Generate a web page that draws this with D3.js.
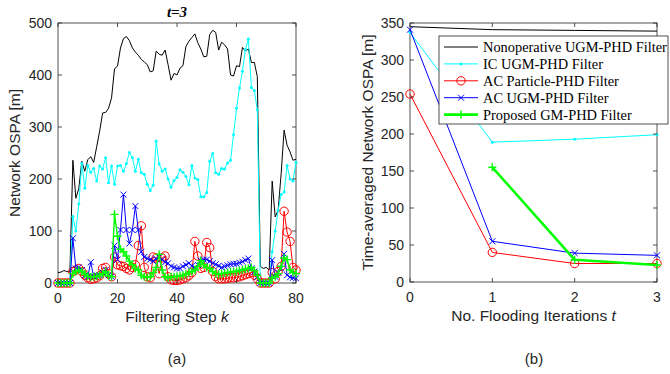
<!DOCTYPE html>
<html lang="en">
<head>
<meta charset="utf-8">
<title>Network OSPA</title>
<script src="https://cdn.jsdelivr.net/npm/d3@7/dist/d3.min.js"></script>
<style>
  * { margin: 0; padding: 0; }
  body { background: #fff; }
  svg { display: block; }
  text { fill: #262626; }
</style>
</head>
<body>
<svg id="fig" width="670" height="374"></svg>
<script>
// ---- panel (a): OSPA per filtering step, t = 3 ----
const steps = d3.range(0, 81)
const nonopK = [20, 21, 24, 22, 21, 236, 163, 182, 234, 215, 237, 243, 232, 262, 292, 327, 328, 336, 356, 412,
  417, 452, 470, 474, 466, 452, 444, 438, 430, 425, 420, 406, 408, 446, 440, 438, 448, 420, 390, 403,
  400, 413, 418, 455, 465, 472, 479, 462, 450, 435, 436, 478, 486, 482, 448, 463, 458, 450, 400, 398,
  418, 416, 453, 446, 450, 424, 424, 397, 32, 28, 30, 25, 196, 127, 140, 210, 294, 265, 252, 236, 238]
const icK = [0, 0, 0, 0, 0, 128, 100, 152, 230, 182, 226, 213, 220, 196, 225, 219, 241, 193, 225, 190,
  225, 226, 215, 230, 251, 241, 215, 238, 212, 209, 190, 178, 188, 273, 229, 215, 219, 200, 184, 197,
  203, 218, 213, 205, 189, 226, 202, 199, 166, 166, 174, 234, 249, 212, 209, 220, 219, 231, 236, 285,
  336, 375, 407, 449, 469, 376, 370, 333, 0, 0, 0, 0, 60, 100, 140, 170, 175, 226, 200, 196, 232]
const acPartK = [0, 0, 0, 0, 0, 22, 25, 28, 22, 15, 10, 7, 8, 10, 14, 28, 30, 18, 12, 50,
  35, 33, 32, 28, 25, 30, 35, 72, 110, 30, 12, 10, 50, 48, 18, 48, 52, 12, 6, 5,
  5, 6, 8, 10, 14, 20, 80, 52, 28, 30, 78, 68, 22, 12, 8, 8, 8, 9, 10, 10,
  11, 12, 14, 16, 18, 20, 15, 8, 0, 0, 0, 0, 20, 8, 22, 32, 138, 98, 80, 30, 25]
const acUgmK = [0, 0, 0, 0, 0, 86, 28, 30, 25, 15, 12, 40, 12, 15, 15, 20, 25, 15, 12, 72,
  45, 102, 170, 102, 76, 102, 148, 102, 60, 50, 47, 45, 42, 47, 50, 45, 40, 38, 32, 30,
  28, 28, 32, 35, 38, 33, 30, 35, 43, 45, 45, 42, 38, 36, 33, 30, 32, 34, 36, 37,
  37, 39, 41, 44, 47, 28, 22, 12, 0, 0, 0, 0, 44, 12, 20, 28, 56, 15, 11, 10, 9]
const proposedK = [0, 0, 0, 0, 0, 18, 22, 25, 22, 17, 13, 12, 12, 13, 15, 18, 22, 14, 12, 132,
  90, 65, 60, 52, 42, 35, 28, 25, 15, 12, 11, 12, 20, 30, 55, 25, 12, 10, 12, 12,
  13, 14, 15, 17, 20, 22, 25, 32, 43, 35, 30, 28, 22, 18, 17, 18, 19, 20, 21, 22,
  22, 24, 25, 27, 28, 30, 24, 15, 0, 0, 0, 0, 10, 12, 18, 32, 48, 45, 25, 20, 18]
const stepTicks = [0, 20, 40, 60, 80]
const ospaTicks = [0, 100, 200, 300, 400, 500]

// ---- panel (b): time-averaged OSPA per flooding iterations ----
const iters = [0, 1, 2, 3]
const nonopT = [345, 341, 340, 339]
const icT = [337, 189, 193, 199]
const acPartT = [254, 40, 25, 25]
const acUgmT = [341, 55, 39, 36]
const proposedT = [null, 155, 30, 23]
const iterTicks = [0, 1, 2, 3]
const avgTicks = [0, 50, 100, 150, 200, 250, 300, 350]

const labels = ['Nonoperative UGM-PHD Filter', 'IC UGM-PHD Filter', 'AC Particle-PHD Filter',
  'AC UGM-PHD Filter', 'Proposed GM-PHD Filter']

const styles = [
  { color: '#000000', marker: null, width: 1 },
  { color: '#00ffff', marker: 'dot', width: 1 },
  { color: '#ff0000', marker: 'o', width: 1 },
  { color: '#0000ff', marker: 'x', width: 1 },
  { color: '#00ff00', marker: '+', width: 1.4 }
]

const svg = d3.select('#fig')
const AX = '#262626'
const SANS = 'Liberation Sans, Arial, sans-serif'
const SERIF = 'Liberation Serif, Times New Roman, serif'

function drawMarker(g, type, color, cx, cy) {
  if (type === 'dot') {
    g.append('circle').attr('cx', cx).attr('cy', cy).attr('r', 1.5).attr('fill', color)
  } else if (type === 'o') {
    g.append('circle').attr('cx', cx).attr('cy', cy).attr('r', 4.2)
      .attr('fill', 'none').attr('stroke', color).attr('stroke-width', 1)
  } else if (type === 'x') {
    const s = 3
    g.append('path').attr('d', `M${cx - s},${cy - s}L${cx + s},${cy + s}M${cx - s},${cy + s}L${cx + s},${cy - s}`)
      .attr('stroke', color).attr('stroke-width', 1)
  } else if (type === '+') {
    const s = 4
    g.append('path').attr('d', `M${cx - s},${cy}H${cx + s}M${cx},${cy - s}V${cy + s}`)
      .attr('stroke', color).attr('stroke-width', 1.4)
  }
}

function panel(o) {
  const x = d3.scaleLinear().domain(o.xDomain).range([o.left, o.right])
  const y = d3.scaleLinear().domain(o.yDomain).range([o.bottom, o.top])
  const g = svg.append('g')

  g.append('rect')
    .attr('x', o.left).attr('y', o.top)
    .attr('width', o.right - o.left).attr('height', o.bottom - o.top)
    .attr('fill', '#fff').attr('stroke', AX).attr('stroke-width', 0.8)

  const line = d3.line()
    .defined(d => d[1] != null)
    .x(d => x(d[0])).y(d => y(d[1]))

  o.series.forEach((vals, i) => {
    const st = o.styles[i]
    const pts = o.xs.map((xv, j) => [xv, vals[j]])
    g.append('path')
      .attr('d', line(pts))
      .attr('fill', 'none')
      .attr('stroke', st.color)
      .attr('stroke-width', st.width)
      .attr('stroke-linejoin', 'round')
    if (st.marker) {
      const mg = g.append('g')
      pts.filter(p => p[1] != null).forEach(p => drawMarker(mg, st.marker, st.color, x(p[0]), y(p[1])))
    }
  })

  // ticks on all four sides, pointing inward
  const tl = 4
  const tg = g.append('g').attr('stroke', AX).attr('stroke-width', 0.8)
  o.xTicks.forEach(t => {
    tg.append('line').attr('x1', x(t)).attr('x2', x(t)).attr('y1', o.bottom).attr('y2', o.bottom - tl)
    tg.append('line').attr('x1', x(t)).attr('x2', x(t)).attr('y1', o.top).attr('y2', o.top + tl)
  })
  o.yTicks.forEach(t => {
    tg.append('line').attr('y1', y(t)).attr('y2', y(t)).attr('x1', o.left).attr('x2', o.left + tl)
    tg.append('line').attr('y1', y(t)).attr('y2', y(t)).attr('x1', o.right).attr('x2', o.right - tl)
  })

  g.append('g').selectAll('text').data(o.xTicks).join('text')
    .attr('x', d => x(d)).attr('y', o.bottom + 20)
    .attr('text-anchor', 'middle')
    .attr('font-family', SANS).attr('font-size', 14)
    .text(d => d)

  g.append('g').selectAll('text').data(o.yTicks).join('text')
    .attr('x', o.left - 6).attr('y', d => y(d)).attr('dy', '0.36em')
    .attr('text-anchor', 'end')
    .attr('font-family', SANS).attr('font-size', 14)
    .text(d => d)

  const xl = g.append('text')
    .attr('x', (o.left + o.right) / 2).attr('y', o.bottom + 39)
    .attr('text-anchor', 'middle')
    .attr('font-family', SANS).attr('font-size', 15.5)
  xl.append('tspan').text(o.xLabel[0])
  xl.append('tspan').attr('font-style', 'italic').text(o.xLabel[1])

  g.append('text')
    .attr('transform', `translate(${o.yLabelX},${(o.top + o.bottom) / 2}) rotate(-90)`)
    .attr('text-anchor', 'middle')
    .attr('font-family', SANS).attr('font-size', 15.5)
    .text(o.yLabel)

  g.append('text')
    .attr('x', o.tagX).attr('y', 364)
    .attr('text-anchor', 'middle')
    .attr('font-family', SANS).attr('font-size', 15)
    .text(o.tag)

  return { g, x, y }
}

const pa = panel({
  left: 58, right: 296, top: 23, bottom: 283,
  xDomain: [0, 80], yDomain: [0, 500],
  xs: steps,
  series: [nonopK, icK, acPartK, acUgmK, proposedK],
  styles: styles,
  xTicks: stepTicks, yTicks: ospaTicks,
  xLabel: ['Filtering Step ', 'k'],
  yLabel: 'Network OSPA [m]', yLabelX: 20,
  tag: '(a)', tagX: 177
})

pa.g.append('text')
  .attr('x', 177).attr('y', 17)
  .attr('text-anchor', 'middle')
  .attr('font-family', SERIF).attr('font-size', 15)
  .attr('font-weight', 'bold').attr('font-style', 'italic')
  .style('fill', '#000')
  .text('t=3')

const stylesB = styles.map((s, i) => i === 4 ? Object.assign({}, s, { width: 2.6 }) : s)

const pb = panel({
  left: 410, right: 657, top: 23, bottom: 282,
  xDomain: [0, 3], yDomain: [0, 350],
  xs: iters,
  series: [nonopT, icT, acPartT, acUgmT, proposedT],
  styles: stylesB,
  xTicks: iterTicks, yTicks: avgTicks,
  xLabel: ['No. Flooding Iterations ', 't'],
  yLabel: 'Time-averaged Network OSPA [m]', yLabelX: 373,
  tag: '(b)', tagX: 534
})

// legend
const lg = pb.g.append('g')
lg.append('rect')
  .attr('x', 439).attr('y', 36).attr('width', 229).attr('height', 88)
  .attr('fill', '#fff').attr('stroke', AX).attr('stroke-width', 0.8)
labels.forEach((lab, i) => {
  const st = stylesB[i]
  const cy = 47 + i * 16.9
  lg.append('line').attr('x1', 444).attr('x2', 478).attr('y1', cy).attr('y2', cy)
    .attr('stroke', st.color).attr('stroke-width', st.width)
  if (st.marker) drawMarker(lg, st.marker, st.color, 461, cy)
  lg.append('text')
    .attr('x', 483).attr('y', cy).attr('dy', '0.35em')
    .attr('font-family', SERIF).attr('font-size', 14.4)
    .style('fill', '#000')
    .text(lab)
})
</script>
</body>
</html>
